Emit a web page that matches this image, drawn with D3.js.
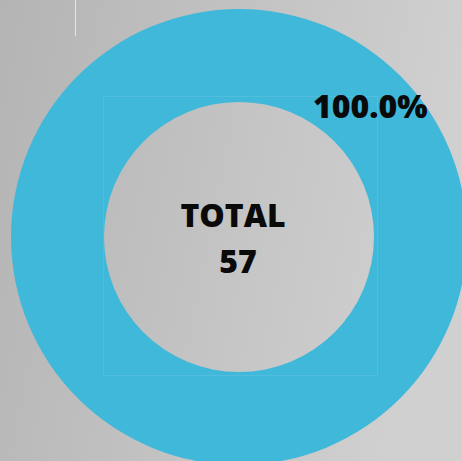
<!DOCTYPE html>
<html>
<head>
<meta charset="utf-8">
<script src="https://cdn.jsdelivr.net/npm/d3@7"></script>
<style>
  html, body { margin: 0; padding: 0; overflow: hidden; }
  text { font-family: "Open Sans", "Noto Sans", sans-serif; font-weight: 800; }
</style>
</head>
<body>
<div id="chart-area"></div>
<script>
// data
var categories = ["Total"];
var values = [57];
var centerLabels = ["TOTAL", "57"];

var canvasWidth = 462;
var canvasHeight = 461;
var cx = 239, cy = 237;
var outerR = 228, innerR = 135;

var svg = d3.select("#chart-area")
    .append("svg")
        .attr("width", canvasWidth)
        .attr("height", canvasHeight);

// background gradient
var defs = svg.append("defs");
var grad = defs.append("linearGradient")
    .attr("id", "bg")
    .attr("x1", "0").attr("y1", "0")
    .attr("x2", "1").attr("y2", "0.2");
grad.append("stop").attr("offset", "0").attr("stop-color", "#b4b4b4");
grad.append("stop").attr("offset", "1").attr("stop-color", "#d0d0d0");

svg.append("rect")
    .attr("width", canvasWidth)
    .attr("height", canvasHeight)
    .attr("fill", "url(#bg)");

// faint guide line at top left
svg.append("line")
    .attr("x1", 75.5).attr("x2", 75.5)
    .attr("y1", 0).attr("y2", 36)
    .attr("stroke", "#e6e6e6")
    .attr("stroke-width", 1);

var g = svg.append("g")
    .attr("transform", `translate(${cx},${cy})`);

var total = d3.sum(values);
var pie = d3.pie().sort(null).value(d => d);
var arc = d3.arc().innerRadius(innerR).outerRadius(outerR);

g.selectAll("path.slice")
    .data(pie(values))
    .enter()
    .append("path")
        .attr("class", "slice")
        .attr("d", arc)
        .attr("fill", "#40b8da");

// faint box around inner hole
g.append("rect")
    .attr("x", innerR * -1 - 0.5)
    .attr("y", -140.5)
    .attr("width", 274)
    .attr("height", 279)
    .attr("fill", "none")
    .attr("stroke", "#7fd0e4")
    .attr("stroke-opacity", 0.25);

// percentage label
var labelAngle = Math.PI / 4;
var labelR = (innerR + outerR) / 2;
g.selectAll("text.pct")
    .data(pie(values))
    .enter()
    .append("text")
        .attr("class", "pct")
        .attr("x", labelR * Math.sin(labelAngle) + 3)
        .attr("y", -labelR * Math.cos(labelAngle) - 3)
        .attr("text-anchor", "middle")
        .attr("dominant-baseline", "central")
        .attr("font-size", "32px")
        .attr("fill", "#0a0a0a")
        .text(d => (d.value / total * 100).toFixed(1) + "%");

// center text
g.append("text")
    .attr("x", -6)
    .attr("y", -10)
    .attr("text-anchor", "middle")
    .attr("font-size", "32px")
    .attr("fill", "#0a0a0a")
    .text(centerLabels[0]);

g.append("text")
    .attr("x", -1)
    .attr("y", 36)
    .attr("text-anchor", "middle")
    .attr("font-size", "32px")
    .attr("fill", "#0a0a0a")
    .text(d3.sum(values));
</script>
</body>
</html>
